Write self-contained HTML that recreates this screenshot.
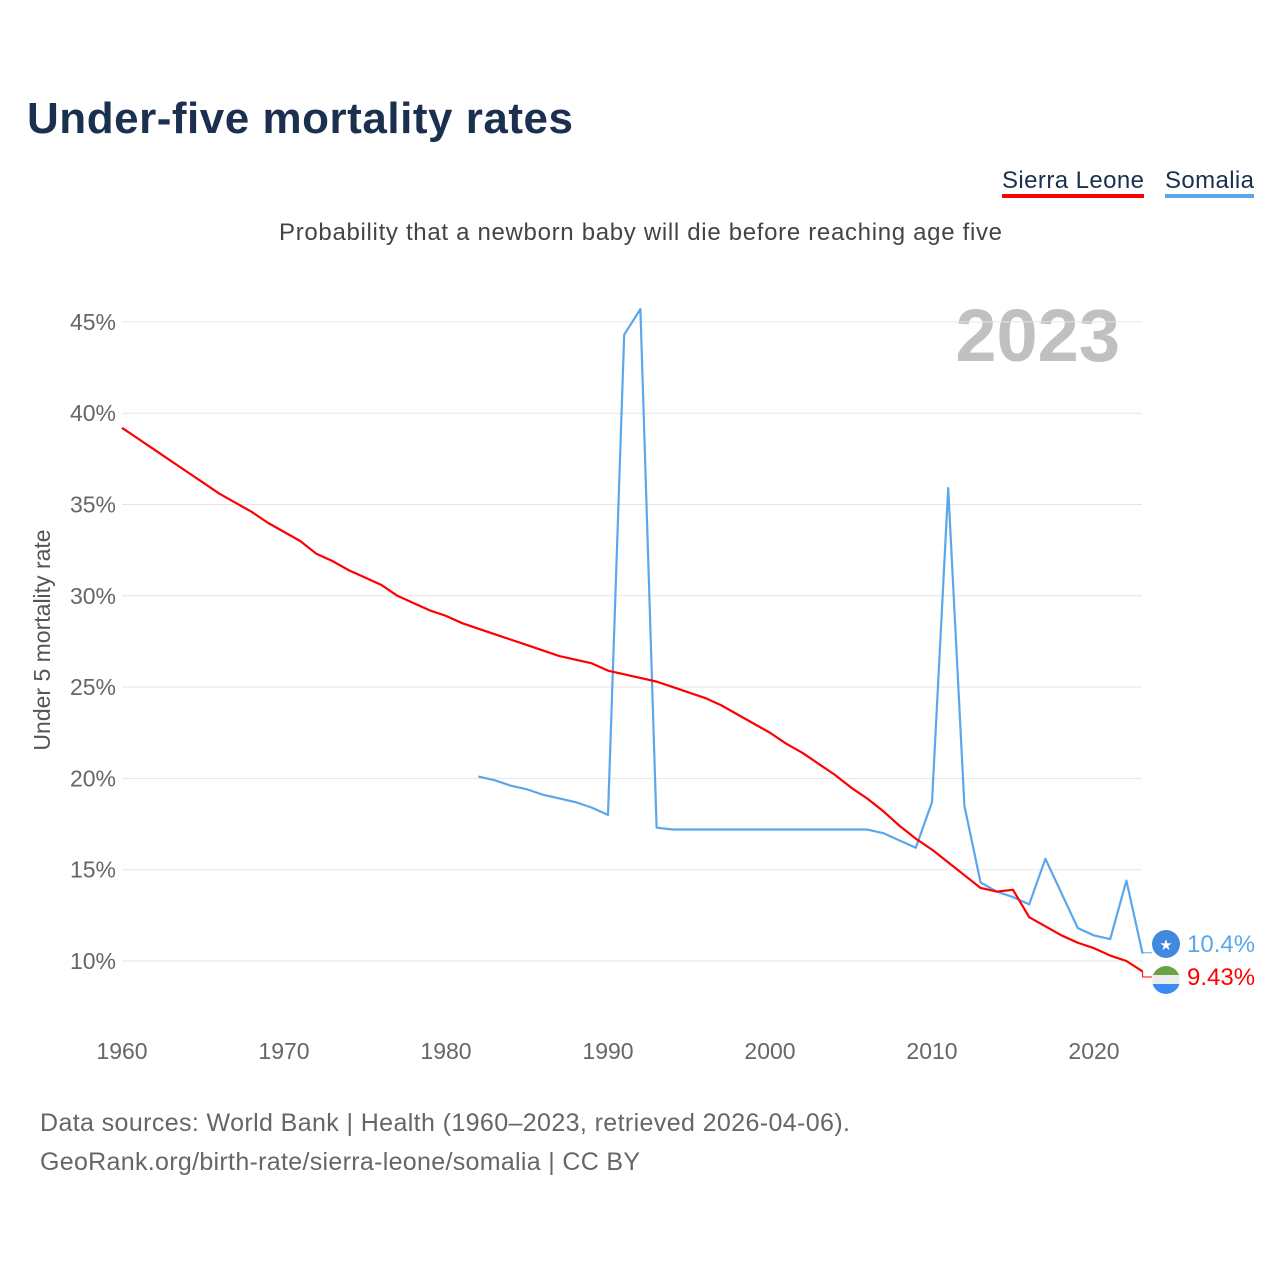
<!DOCTYPE html>
<html><head><meta charset="utf-8">
<style>
body{margin:0;background:#fff;font-family:"Liberation Sans",sans-serif;}
#wrap{position:relative;width:1280px;height:1280px;overflow:hidden;}
</style></head>
<body>
<div id="wrap">
<svg id="chart" width="1280" height="1280">
<text x="27" y="133" font-size="44" font-weight="bold" fill="#1b2f4e" textLength="546">Under-five mortality rates</text>
<g>
<text x="1002" y="188" font-size="24" fill="#1b2f4e" textLength="142">Sierra Leone</text>
<rect x="1002" y="194" width="142" height="4" fill="#ff0000"/>
<text x="1165" y="188" font-size="24" fill="#1b2f4e" textLength="89">Somalia</text>
<rect x="1165" y="194" width="89" height="4" fill="#5ba7ea"/>
</g>
<text x="279" y="240" font-size="24" fill="#444" textLength="723">Probability that a newborn baby will die before reaching age five</text>
<text x="1120" y="361" font-size="74" font-weight="bold" fill="#c0c0c0" text-anchor="end">2023</text>
<text transform="translate(50,640) rotate(-90)" font-size="23" fill="#555" text-anchor="middle">Under 5 mortality rate</text>
<g id="grid"></g><g id="yticks"></g><g id="xticks"></g><g id="series"></g><g id="ends"></g>
<text x="40" y="1131" font-size="25" fill="#666" textLength="810">Data sources: World Bank | Health (1960–2023, retrieved 2026-04-06).</text>
<text x="40" y="1170" font-size="25" fill="#666" textLength="600">GeoRank.org/birth-rate/sierra-leone/somalia | CC BY</text>
</svg>
</div>
<script>
const yTickValues=[10,15,20,25,30,35,40,45];
const xTickValues=[1960,1970,1980,1990,2000,2010,2020];
const slYears=[];for(let y=1960;y<=2023;y++)slYears.push(y);
const slValues=[39.2,38.6,38.0,37.4,36.8,36.2,35.6,35.1,34.6,34.0,33.5,33.0,32.3,31.9,31.4,31.0,30.6,30.0,29.6,29.2,28.9,28.5,28.2,27.9,27.6,27.3,27.0,26.7,26.5,26.3,25.9,25.7,25.5,25.3,25.0,24.7,24.4,24.0,23.5,23.0,22.5,21.9,21.4,20.8,20.2,19.5,18.9,18.2,17.4,16.7,16.1,15.4,14.7,14.0,13.8,13.9,12.4,11.9,11.4,11.0,10.7,10.3,10.0,9.43];
const soYears=[];for(let y=1982;y<=2023;y++)soYears.push(y);
const soValues=[20.1,19.9,19.6,19.4,19.1,18.9,18.7,18.4,18.0,44.3,45.7,17.3,17.2,17.2,17.2,17.2,17.2,17.2,17.2,17.2,17.2,17.2,17.2,17.2,17.2,17.0,16.6,16.2,18.7,35.9,18.5,14.3,13.8,13.5,13.1,15.6,13.7,11.8,11.4,11.2,14.4,10.4];
const ns="http://www.w3.org/2000/svg";
const X=y=>122+(y-1960)*16.2;
const Y=v=>961-(v-10)*18.26;
function mk(tag,attrs,parent){const e=document.createElementNS(ns,tag);for(const k in attrs)e.setAttribute(k,attrs[k]);parent.appendChild(e);return e;}
const grid=document.getElementById('grid'),yt=document.getElementById('yticks'),xt=document.getElementById('xticks');
yTickValues.forEach(v=>{
 const l=mk('line',{x1:122,x2:1142,y1:Y(v),y2:Y(v),stroke:'#e6e6e6','stroke-width':1},grid);
 
 
 const t=mk('text',{x:116,y:Y(v)+8,'font-size':23,fill:'#666','text-anchor':'end'},yt);
 t.textContent=v+'%';
 
 
});
xTickValues.forEach(v=>{
 const t=mk('text',{x:X(v),y:1059,'font-size':23,fill:'#666','text-anchor':'middle'},xt);
 t.textContent=v;
 
 
});
const ser=document.getElementById('series');
const pSo=mk('polyline',{points:soYears.map((y,i)=>X(y)+','+Y(soValues[i])).join(' '),fill:'none',stroke:'#5ba7ea','stroke-width':2.2,'stroke-linejoin':'round'},ser);


const pSl=mk('polyline',{points:slYears.map((y,i)=>X(y)+','+Y(slValues[i])).join(' '),fill:'none',stroke:'#ff0000','stroke-width':2.2,'stroke-linejoin':'round'},ser);


const ends=document.getElementById('ends');
const soEnd=soValues[soValues.length-1],slEnd=slValues[slValues.length-1];
const xe=X(2023);
mk('polyline',{points:`${xe},${Y(soEnd)} ${xe},${Y(soEnd)-1} 1152,${Y(soEnd)-1}`,fill:'none',stroke:'#5ba7ea','stroke-width':1},ends);
mk('polyline',{points:`${xe},${Y(slEnd)} ${xe},977 1152,977`,fill:'none',stroke:'#ff0000','stroke-width':1},ends);
const f1=mk('g',{},ends);


mk('circle',{cx:1166,cy:944,r:14,fill:'#4189dd'},f1);
const st=mk('text',{x:1166,y:950,'font-size':15,fill:'#fff','text-anchor':'middle'},f1);st.textContent='★';
const f2=mk('g',{},ends);


mk('clipPath',{id:'cp'},f2);
mk('circle',{cx:1166,cy:980,r:14},document.getElementById('cp'));
const fg=mk('g',{'clip-path':'url(#cp)'},f2);
mk('rect',{x:1152,y:966,width:28,height:10,fill:'#68a445'},fg);
mk('rect',{x:1152,y:975,width:28,height:10,fill:'#ececec'},fg);
mk('rect',{x:1152,y:984,width:28,height:10,fill:'#3d8af7'},fg);
const l1=mk('text',{x:1187,y:952,'font-size':24,fill:'#5ba7ea'},ends);l1.textContent=soEnd.toFixed(1)+'%';


const l2=mk('text',{x:1187,y:985,'font-size':24,fill:'#ff0000'},ends);l2.textContent=slEnd+'%';


</script>
</body></html>
